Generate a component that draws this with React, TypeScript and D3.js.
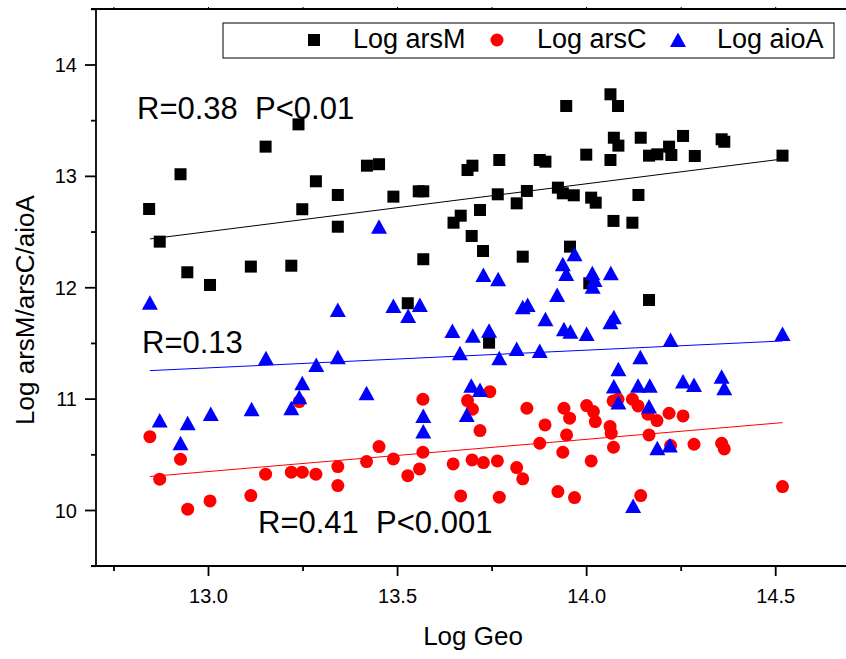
import React from "react";
import * as d3 from "d3";

// Log Geo (x) and Log gene copies (y) per series
const arsM: [number, number][] = [
  [12.843, 12.707], [12.871, 12.414], [12.926, 13.019], [12.944, 12.139], [13.004, 12.025],
  [13.112, 12.19], [13.151, 13.267], [13.219, 12.198], [13.238, 13.467], [13.248, 12.705],
  [13.284, 12.956], [13.342, 12.833], [13.342, 12.548], [13.419, 13.096], [13.451, 13.109],
  [13.489, 12.818], [13.527, 11.861], [13.556, 12.866], [13.568, 12.866], [13.568, 12.256],
  [13.648, 12.584], [13.667, 12.647], [13.685, 13.057], [13.698, 13.096], [13.696, 12.465],
  [13.718, 12.698], [13.726, 12.33], [13.742, 11.507], [13.769, 13.147], [13.765, 12.839],
  [13.815, 12.758], [13.831, 12.279], [13.842, 12.869], [13.876, 13.147], [13.891, 13.132],
  [13.924, 12.899], [13.937, 12.848], [13.966, 12.83], [13.946, 13.632], [13.956, 12.369],
  [13.999, 13.195], [14.007, 12.04], [14.012, 12.809], [14.024, 12.764], [14.063, 13.737],
  [14.083, 13.632], [14.072, 13.347], [14.084, 13.276], [14.063, 13.147], [14.071, 12.6],
  [14.121, 12.584], [14.137, 12.833], [14.143, 13.347], [14.165, 13.186], [14.187, 13.198],
  [14.218, 13.267], [14.224, 13.192], [14.255, 13.363], [14.286, 13.183], [14.357, 13.333],
  [14.364, 13.311], [14.518, 13.186], [14.165, 11.89],
];

const arsC: [number, number][] = [
  [12.845, 10.663], [12.871, 10.281], [12.926, 10.46], [12.945, 10.012], [13.004, 10.086],
  [13.112, 10.134], [13.151, 10.326], [13.219, 10.344], [13.24, 10.978], [13.248, 10.344],
  [13.284, 10.326], [13.342, 10.394], [13.342, 10.224], [13.418, 10.439], [13.451, 10.574],
  [13.489, 10.463], [13.527, 10.313], [13.558, 10.373], [13.567, 10.523], [13.567, 10.999],
  [13.647, 10.418], [13.667, 10.131], [13.685, 10.987], [13.697, 10.454], [13.698, 10.909],
  [13.718, 10.718], [13.727, 10.43], [13.744, 11.067], [13.764, 10.445], [13.769, 10.12],
  [13.815, 10.385], [13.831, 10.284], [13.842, 10.918], [13.876, 10.604], [13.89, 10.768],
  [13.924, 10.17], [13.937, 10.523], [13.94, 10.918], [13.947, 10.679], [13.955, 10.829],
  [13.968, 10.116], [14.0, 10.942], [14.012, 10.445], [14.018, 10.888], [14.023, 10.798],
  [14.062, 10.755], [14.065, 10.694], [14.071, 10.568], [14.07, 10.984], [14.083, 10.999],
  [14.121, 10.999], [14.136, 10.939], [14.143, 10.134], [14.162, 10.864], [14.165, 10.679],
  [14.186, 10.807], [14.218, 10.873], [14.222, 10.583], [14.255, 10.849], [14.284, 10.595],
  [14.357, 10.604], [14.364, 10.553], [14.518, 10.215],
];

const aioA: [number, number][] = [
  [12.845, 11.866], [12.871, 10.807], [12.926, 10.604], [12.945, 10.784], [13.006, 10.867],
  [13.114, 10.909], [13.152, 11.367], [13.219, 10.918], [13.24, 11.017], [13.248, 11.143],
  [13.285, 11.307], [13.342, 11.376], [13.342, 11.8], [13.418, 11.053], [13.451, 12.548],
  [13.489, 11.837], [13.528, 11.747], [13.559, 11.846], [13.568, 10.849], [13.568, 10.709],
  [13.645, 11.612], [13.665, 11.412], [13.683, 10.858], [13.695, 11.119], [13.699, 11.57],
  [13.718, 11.083], [13.727, 12.115], [13.742, 11.615], [13.766, 12.076], [13.769, 11.367],
  [13.815, 11.451], [13.831, 11.825], [13.844, 11.846], [13.876, 11.433], [13.891, 11.717],
  [13.922, 11.935], [13.937, 12.211], [13.946, 12.124], [13.94, 11.627], [13.957, 11.606],
  [13.968, 12.301], [14.0, 11.585], [14.015, 12.13], [14.021, 12.07], [14.016, 12.01],
  [14.064, 12.13], [14.072, 11.735], [14.063, 11.69], [14.072, 11.113], [14.084, 11.268],
  [14.084, 10.969], [14.123, 10.041], [14.136, 11.119], [14.142, 11.376], [14.167, 11.119],
  [14.165, 10.933], [14.187, 10.559], [14.22, 10.583], [14.222, 11.531], [14.255, 11.158],
  [14.284, 11.127], [14.357, 11.202], [14.364, 11.098], [14.518, 11.585],
];

// fitted lines: [x start, y start, x end, y end]
const fitArsM = [12.845, 12.438, 14.518, 13.156];
const fitArsC = [12.845, 10.305, 14.518, 10.789];
const fitAioA = [12.845, 11.256, 14.518, 11.522];

const xMajor = [13.0, 13.5, 14.0, 14.5];
const xMinor = [12.75, 13.25, 13.75, 14.25];
const yMajor = [10, 11, 12, 13, 14];
const yMinor = [9.5, 10.5, 11.5, 12.5, 13.5, 14.5];

const legendItems = ["Log arsM", "Log arsC", "Log aioA"];
const annotations = ["R=0.38  P<0.01", "R=0.13", "R=0.41  P<0.001"];

const FONT = "'Liberation Sans', Arial, Helvetica, sans-serif";

export default function App() {
  const W = 846, H = 659;
  const x = d3.scaleLinear().domain([13, 14.5]).range([208.5, 775.7]);
  const y = d3.scaleLinear().domain([10, 14]).range([510.5, 65]);
  const left = 96, right = 846, top = 9, bottom = 566;

  const sq = 12, r = 6.5;
  const tri = (cx: number, cy: number) => {
    const p = d3.path();
    p.moveTo(cx, cy - 7.5);
    p.lineTo(cx + 8, cy + 7);
    p.lineTo(cx - 8, cy + 7);
    p.closePath();
    return p.toString();
  };
  const fitLine = (f: number[], color: string) => (
    <line x1={x(f[0])} y1={y(f[1])} x2={x(f[2])} y2={y(f[3])} stroke={color} strokeWidth={1} />
  );

  return (
    <svg width={W} height={H} style={{ position: "absolute", left: 0, top: 0, background: "#fff" }} fontFamily={FONT}>
      <rect x={0} y={0} width={W} height={H} fill="#fff" />
      {/* axes */}
      <g stroke="#000" strokeWidth={1.8} fill="none">
        <line x1={left} y1={top} x2={left} y2={bottom + 1} />
        <line x1={left - 5} y1={bottom} x2={right} y2={bottom} />
        <line x1={left - 5} y1={top} x2={right} y2={top} />
        {xMajor.map((v) => <line key={"xM" + v} x1={x(v)} x2={x(v)} y1={bottom} y2={bottom + 10} />)}
        {xMinor.map((v) => <line key={"xm" + v} x1={x(v)} x2={x(v)} y1={bottom} y2={bottom + 5} />)}
        {xMajor.map((v) => <line key={"tM" + v} x1={x(v)} x2={x(v)} y1={top} y2={top - 2} strokeWidth={1} />)}
        {xMinor.map((v) => <line key={"tm" + v} x1={x(v)} x2={x(v)} y1={top} y2={top - 2} strokeWidth={1} />)}
        {yMajor.map((v) => <line key={"yM" + v} x1={left} x2={left - 11} y1={y(v)} y2={y(v)} />)}
        {yMinor.map((v) => <line key={"ym" + v} x1={left} x2={left - 5} y1={y(v)} y2={y(v)} />)}
      </g>
      <g fontSize={20} fill="#000">
        {xMajor.map((v) => (
          <text key={"xl" + v} x={x(v)} y={603} textAnchor="middle">{d3.format(".1f")(v)}</text>
        ))}
        {yMajor.map((v) => (
          <text key={"yl" + v} x={77} y={y(v)} dy="0.35em" textAnchor="end">{v}</text>
        ))}
      </g>
      <text x={473} y={645} fontSize={26} textAnchor="middle">Log Geo</text>
      <text transform="translate(34,310) rotate(-90)" fontSize={26} textAnchor="middle">Log arsM/arsC/aioA</text>

      {/* fit lines */}
      {fitLine(fitArsM, "#000")}
      {fitLine(fitArsC, "#ff0000")}
      {fitLine(fitAioA, "#0000ff")}

      {/* markers */}
      <g fill="#000">
        {arsM.map((d, i) => (
          <rect key={"m" + i} x={x(d[0]) - sq / 2} y={y(d[1]) - sq / 2} width={sq} height={sq} />
        ))}
      </g>
      <g fill="#ff0000">
        {arsC.map((d, i) => <circle key={"c" + i} cx={x(d[0])} cy={y(d[1])} r={r} />)}
      </g>
      <g fill="#0000ff">
        {aioA.map((d, i) => <path key={"a" + i} d={tri(x(d[0]), y(d[1]))} />)}
      </g>

      {/* annotations */}
      <g fontSize={31} fill="#000">
        <text x={137} y={119} xmlSpace="preserve">{annotations[0]}</text>
        <text x={142} y={353} xmlSpace="preserve">{annotations[1]}</text>
        <text x={258} y={533} xmlSpace="preserve">{annotations[2]}</text>
      </g>

      {/* legend */}
      <rect x={223} y={23} width={611} height={35} fill="#fff" stroke="#000" strokeWidth={1} />
      <rect x={314 - sq / 2} y={40 - sq / 2} width={sq} height={sq} fill="#000" />
      <text x={353} y={48} fontSize={27}>{legendItems[0]}</text>
      <circle cx={497} cy={40} r={r} fill="#ff0000" />
      <text x={537} y={48} fontSize={27}>{legendItems[1]}</text>
      <path d={tri(678, 40)} fill="#0000ff" />
      <text x={717} y={48} fontSize={27}>{legendItems[2]}</text>
    </svg>
  );
}
